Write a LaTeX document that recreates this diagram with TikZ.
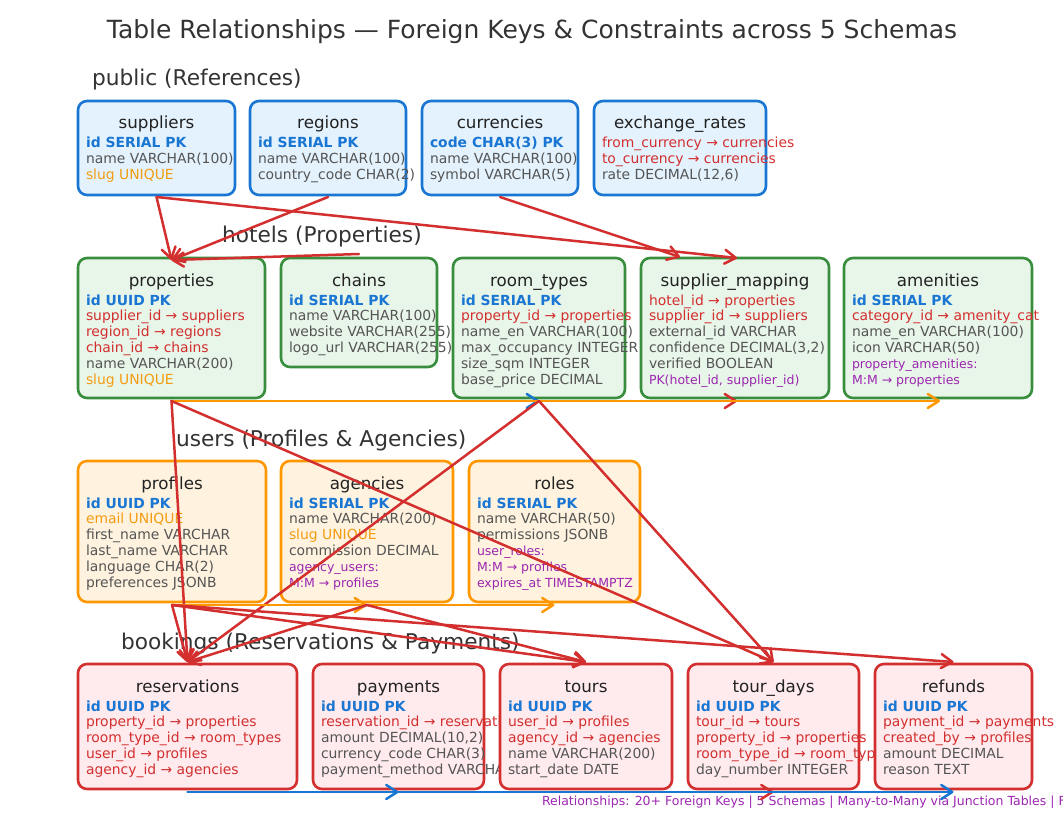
\documentclass[tikz,border=0pt]{standalone}
\usepackage{fontspec}
\setmainfont{DejaVu Sans}
\usetikzlibrary{arrows.meta,calc}
\definecolor{pubB}{HTML}{1976D2}
\definecolor{pubF}{HTML}{E3F2FD}
\definecolor{hotB}{HTML}{388E3C}
\definecolor{hotF}{HTML}{E8F5E9}
\definecolor{usrB}{HTML}{FF9800}
\definecolor{usrF}{HTML}{FFF3E0}
\definecolor{bkB}{HTML}{D32F2F}
\definecolor{bkF}{HTML}{FFEBEE}
\definecolor{cPK}{HTML}{1976D2}
\definecolor{cFK}{HTML}{D32F2F}
\definecolor{cUQ}{HTML}{F39C12}
\definecolor{cN}{HTML}{555555}
\definecolor{cM}{HTML}{9C27B0}
\definecolor{cT}{HTML}{222222}
\definecolor{cH}{HTML}{333333}
\newcommand\tbox[7]{%
  \node[#2, minimum width=#5pt, minimum height=#6pt, anchor=north west] (#1) at (#3,#4) {};
  \node[ttl, anchor=base] (#1-t) at ($(#1.north)+(0,28)$) {#7};}
\newcommand\tline[4]{%
  \node[#3, anchor=base west] (#1-#2) at ($(#1.north west)+(8,{47+15.8*#2})$) {#4};}
\begin{document}
\begin{tikzpicture}[x=1pt,y=-1pt,
  every node/.style={inner sep=0pt, outer sep=0pt},
  boxbase/.style={line width=2.6pt, rounded corners=9pt},
  pubbox/.style={boxbase, draw=pubB, fill=pubF},
  hotbox/.style={boxbase, draw=hotB, fill=hotF},
  usrbox/.style={boxbase, draw=usrB, fill=usrF},
  bkbox/.style={boxbase, draw=bkB, fill=bkF},
  ttl/.style={font=\fontsize{16.7}{18}\selectfont, text=cT},
  lnPK/.style={font=\fontsize{13.9}{16}\selectfont\bfseries, text=cPK},
  lnFK/.style={font=\fontsize{13.9}{16}\selectfont, text=cFK},
  lnUQ/.style={font=\fontsize{13.9}{16}\selectfont, text=cUQ},
  lnN/.style={font=\fontsize{13.9}{16}\selectfont, text=cN},
  lnM/.style={font=\fontsize{12.5}{14}\selectfont, text=cM},
  heading/.style={font=\fontsize{21.7}{24}\selectfont, text=cH, anchor=base west},
  arBase/.style={line width=2.5pt, line cap=round, -{Straight Barb[length=11pt,width=14pt,line cap=round,line join=round]}},
  arRed/.style={arBase, draw=bkB},
  arBlue/.style={arBase, draw=pubB},
  arOrange/.style={arBase, draw=usrB},
]
\useasboundingbox (0,0) rectangle (1063,813);
\clip (0,0) rectangle (1063,813);
\node[font=\fontsize{25}{28}\selectfont, text=cH, anchor=base] (title) at (532,39) {Table Relationships — Foreign Keys \& Constraints across 5 Schemas};
% ---------- public ----------
\node[heading] (hpublic) at (92,86) {public (References)};
\tbox{suppliers}{pubbox}{78}{101}{157}{94}{suppliers}
\tline{suppliers}{0}{lnPK}{id SERIAL PK}
\tline{suppliers}{1}{lnN}{name VARCHAR(100)}
\tline{suppliers}{2}{lnUQ}{slug UNIQUE}
\tbox{regions}{pubbox}{250}{101}{156}{94}{regions}
\tline{regions}{0}{lnPK}{id SERIAL PK}
\tline{regions}{1}{lnN}{name VARCHAR(100)}
\tline{regions}{2}{lnN}{country\_code CHAR(2)}
\tbox{currencies}{pubbox}{422}{101}{156}{94}{currencies}
\tline{currencies}{0}{lnPK}{code CHAR(3) PK}
\tline{currencies}{1}{lnN}{name VARCHAR(100)}
\tline{currencies}{2}{lnN}{symbol VARCHAR(5)}
\tbox{exrates}{pubbox}{594}{101}{172}{94}{exchange\_rates}
\tline{exrates}{0}{lnFK}{from\_currency → currencies}
\tline{exrates}{1}{lnFK}{to\_currency → currencies}
\tline{exrates}{2}{lnN}{rate DECIMAL(12,6)}
% ---------- hotels ----------
\node[heading] (hhotels) at (222,243) {hotels (Properties)};
\tbox{properties}{hotbox}{78}{258}{187}{140}{properties}
\tline{properties}{0}{lnPK}{id UUID PK}
\tline{properties}{1}{lnFK}{supplier\_id → suppliers}
\tline{properties}{2}{lnFK}{region\_id → regions}
\tline{properties}{3}{lnFK}{chain\_id → chains}
\tline{properties}{4}{lnN}{name VARCHAR(200)}
\tline{properties}{5}{lnUQ}{slug UNIQUE}
\tbox{chains}{hotbox}{281}{258}{156}{109}{chains}
\tline{chains}{0}{lnPK}{id SERIAL PK}
\tline{chains}{1}{lnN}{name VARCHAR(100)}
\tline{chains}{2}{lnN}{website VARCHAR(255)}
\tline{chains}{3}{lnN}{logo\_url VARCHAR(255)}
\tbox{roomtypes}{hotbox}{453}{258}{172}{140}{room\_types}
\tline{roomtypes}{0}{lnPK}{id SERIAL PK}
\tline{roomtypes}{1}{lnFK}{property\_id → properties}
\tline{roomtypes}{2}{lnN}{name\_en VARCHAR(100)}
\tline{roomtypes}{3}{lnN}{max\_occupancy INTEGER}
\tline{roomtypes}{4}{lnN}{size\_sqm INTEGER}
\tline{roomtypes}{5}{lnN}{base\_price DECIMAL}
\tbox{supmap}{hotbox}{641}{258}{188}{140}{supplier\_mapping}
\tline{supmap}{0}{lnFK}{hotel\_id → properties}
\tline{supmap}{1}{lnFK}{supplier\_id → suppliers}
\tline{supmap}{2}{lnN}{external\_id VARCHAR}
\tline{supmap}{3}{lnN}{confidence DECIMAL(3,2)}
\tline{supmap}{4}{lnN}{verified BOOLEAN}
\tline{supmap}{5}{lnM}{PK(hotel\_id, supplier\_id)}
\tbox{amenities}{hotbox}{844}{258}{188}{140}{amenities}
\tline{amenities}{0}{lnPK}{id SERIAL PK}
\tline{amenities}{1}{lnFK}{category\_id → amenity\_cat}
\tline{amenities}{2}{lnN}{name\_en VARCHAR(100)}
\tline{amenities}{3}{lnN}{icon VARCHAR(50)}
\tline{amenities}{4}{lnM}{property\_amenities:}
\tline{amenities}{5}{lnM}{M:M → properties}
% ---------- users ----------
\node[heading] (husers) at (176,446) {users (Profiles \& Agencies)};
\tbox{profiles}{usrbox}{78}{461}{188}{141}{profiles}
\tline{profiles}{0}{lnPK}{id UUID PK}
\tline{profiles}{1}{lnUQ}{email UNIQUE}
\tline{profiles}{2}{lnN}{first\_name VARCHAR}
\tline{profiles}{3}{lnN}{last\_name VARCHAR}
\tline{profiles}{4}{lnN}{language CHAR(2)}
\tline{profiles}{5}{lnN}{preferences JSONB}
\tbox{agencies}{usrbox}{281}{461}{172}{141}{agencies}
\tline{agencies}{0}{lnPK}{id SERIAL PK}
\tline{agencies}{1}{lnN}{name VARCHAR(200)}
\tline{agencies}{2}{lnUQ}{slug UNIQUE}
\tline{agencies}{3}{lnN}{commission DECIMAL}
\tline{agencies}{4}{lnM}{agency\_users:}
\tline{agencies}{5}{lnM}{M:M → profiles}
\tbox{roles}{usrbox}{469}{461}{171}{141}{roles}
\tline{roles}{0}{lnPK}{id SERIAL PK}
\tline{roles}{1}{lnN}{name VARCHAR(50)}
\tline{roles}{2}{lnN}{permissions JSONB}
\tline{roles}{3}{lnM}{user\_roles:}
\tline{roles}{4}{lnM}{M:M → profiles}
\tline{roles}{5}{lnM}{expires\_at TIMESTAMPTZ}
% ---------- bookings ----------
\node[heading] (hbookings) at (121,649) {bookings (Reservations \& Payments)};
\tbox{reservations}{bkbox}{78}{664}{219}{125}{reservations}
\tline{reservations}{0}{lnPK}{id UUID PK}
\tline{reservations}{1}{lnFK}{property\_id → properties}
\tline{reservations}{2}{lnFK}{room\_type\_id → room\_types}
\tline{reservations}{3}{lnFK}{user\_id → profiles}
\tline{reservations}{4}{lnFK}{agency\_id → agencies}
\tbox{payments}{bkbox}{313}{664}{171}{125}{payments}
\tline{payments}{0}{lnPK}{id UUID PK}
\tline{payments}{1}{lnFK}{reservation\_id → reservations}
\tline{payments}{2}{lnN}{amount DECIMAL(10,2)}
\tline{payments}{3}{lnN}{currency\_code CHAR(3)}
\tline{payments}{4}{lnN}{payment\_method VARCHAR(50)}
\tbox{tours}{bkbox}{500}{664}{172}{125}{tours}
\tline{tours}{0}{lnPK}{id UUID PK}
\tline{tours}{1}{lnFK}{user\_id → profiles}
\tline{tours}{2}{lnFK}{agency\_id → agencies}
\tline{tours}{3}{lnN}{name VARCHAR(200)}
\tline{tours}{4}{lnN}{start\_date DATE}
\tbox{tourdays}{bkbox}{688}{664}{171}{125}{tour\_days}
\tline{tourdays}{0}{lnPK}{id UUID PK}
\tline{tourdays}{1}{lnFK}{tour\_id → tours}
\tline{tourdays}{2}{lnFK}{property\_id → properties}
\tline{tourdays}{3}{lnFK}{room\_type\_id → room\_types}
\tline{tourdays}{4}{lnN}{day\_number INTEGER}
\tbox{refunds}{bkbox}{875}{664}{157}{125}{refunds}
\tline{refunds}{0}{lnPK}{id UUID PK}
\tline{refunds}{1}{lnFK}{payment\_id → payments}
\tline{refunds}{2}{lnFK}{created\_by → profiles}
\tline{refunds}{3}{lnN}{amount DECIMAL}
\tline{refunds}{4}{lnN}{reason TEXT}
% ---------- footer ----------
\node[font=\fontsize{12.5}{14}\selectfont, text=cM, anchor=base west] (footer) at (542,805) {Relationships: 20+ Foreign Keys | 5 Schemas | Many-to-Many via Junction Tables | Full Integrity};
% ---------- connectors ----------
% public -> hotels
\draw[arRed] ($(suppliers.south)+(0,2)$) -- ($(properties.north)+(0,2)$);
\draw[arRed] ($(regions.south)+(0,2)$) -- ($(properties.north)+(0,2)$);
\draw[arRed] ($(chains.north)+(0,-4)$) -- ($(properties.north)+(0,2)$);
\draw[arRed] ($(suppliers.south)+(0,2)$) -- ($(supmap.north)+(2,0)$);
\draw[arRed] ($(currencies.south)+(0,2)$) -- ($(supmap.north)+(-55,-1)$);
% hotels row bottom
\draw[arBlue] ($(properties.south)+(0,3)$) -- ($(roomtypes.south)+(0,3)$);
\draw[arRed] ($(properties.south)+(0,3)$) -- ($(supmap.south)+(2,3)$);
\draw[arOrange] ($(properties.south)+(0,3)$) -- ($(amenities.south)+(2,3)$);
% hotels -> bookings
\draw[arRed] ($(properties.south)+(0,3)$) -- ($(reservations.north)+(0,-2)$);
\draw[arRed] ($(properties.south)+(0,3)$) -- ($(tourdays.north)+(0,-2)$);
\draw[arRed] ($(roomtypes.south)+(0,3)$) -- ($(reservations.north)+(0,-2)$);
\draw[arRed] ($(roomtypes.south)+(0,3)$) -- ($(tourdays.north)+(0,-2)$);
% users row bottom
\draw[arOrange] ($(profiles.south)+(0,3)$) -- ($(agencies.south)+(0,3)$);
\draw[arOrange] ($(profiles.south)+(0,3)$) -- ($(roles.south)+(0,3)$);
% users -> bookings
\draw[arRed] ($(profiles.south)+(0,3)$) -- ($(reservations.north)+(0,-2)$);
\draw[arRed] ($(profiles.south)+(0,3)$) -- ($(tours.north)+(0,-2)$);
\draw[arRed] ($(profiles.south)+(0,3)$) -- ($(refunds.north)+(0,-2)$);
\draw[arRed] ($(agencies.south)+(0,3)$) -- ($(reservations.north)+(0,-2)$);
\draw[arRed] ($(agencies.south)+(0,3)$) -- ($(tours.north)+(0,-2)$);
% bookings row bottom
\draw[arBlue] ($(reservations.south)+(0,3)$) -- ($(payments.south)+(0,3)$);
\draw[arRed] ($(tours.south)+(0,3)$) -- ($(tourdays.south)+(0,3)$);
\draw[arBlue] ($(payments.south)+(0,3)$) -- ($(refunds.south)+(0,3)$);
\end{tikzpicture}
\end{document}
